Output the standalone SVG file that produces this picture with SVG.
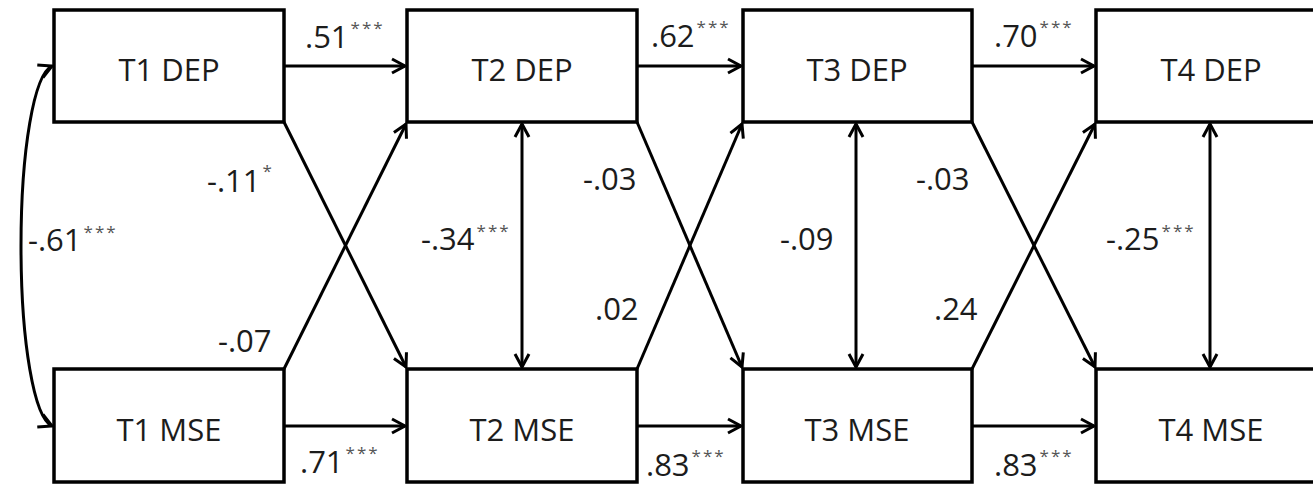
<svg xmlns="http://www.w3.org/2000/svg" width="1313" height="484" viewBox="0 0 1313 484">
  <style>
    .box { fill: #ffffff; stroke: #000000; stroke-width: 3.5; }
    .name { font-family: "Open Sans", "Liberation Sans", sans-serif; font-size: 31px; fill: #1c1c1c; text-anchor: middle; }
    .coef { font-family: "Open Sans", "Liberation Sans", sans-serif; font-size: 31px; fill: #1c1c1c; }
    .sig { font-size: 17px; letter-spacing: 2px; fill: #555555; }
    .edge { fill: none; stroke: #000000; stroke-width: 3; }
  </style>
  <defs>
    <marker id="head" viewBox="-16 -10 20 20" refX="0" refY="0" markerWidth="20" markerHeight="20" markerUnits="userSpaceOnUse" orient="auto-start-reverse">
      <path d="M-13,-7 L0,0 L-13,7" fill="none" stroke="#000000" stroke-width="3" stroke-linejoin="miter"/>
    </marker>
  </defs>

  <rect width="1313" height="484" fill="#ffffff"/>

  <!-- paths between waves -->
  <g id="connectors">
    <!-- autoregressive paths -->
    <line class="edge" x1="284" y1="66" x2="405" y2="66" marker-end="url(#head)"/>
    <line class="edge" x1="637" y1="66" x2="741" y2="66" marker-end="url(#head)"/>
    <line class="edge" x1="972" y1="66" x2="1094" y2="66" marker-end="url(#head)"/>
    <line class="edge" x1="284" y1="426" x2="405" y2="426" marker-end="url(#head)"/>
    <line class="edge" x1="637" y1="426" x2="741" y2="426" marker-end="url(#head)"/>
    <line class="edge" x1="972" y1="426" x2="1094" y2="426" marker-end="url(#head)"/>
    <!-- cross-lagged paths -->
    <line class="edge" x1="284" y1="122" x2="406" y2="367" marker-end="url(#head)"/>
    <line class="edge" x1="284" y1="369" x2="406" y2="124" marker-end="url(#head)"/>
    <line class="edge" x1="637" y1="122" x2="742" y2="367" marker-end="url(#head)"/>
    <line class="edge" x1="637" y1="369" x2="742" y2="124" marker-end="url(#head)"/>
    <line class="edge" x1="972" y1="122" x2="1095" y2="367" marker-end="url(#head)"/>
    <line class="edge" x1="972" y1="369" x2="1095" y2="124" marker-end="url(#head)"/>
    <!-- within-wave residual covariances -->
    <line class="edge" x1="522" y1="124" x2="522" y2="367" marker-start="url(#head)" marker-end="url(#head)"/>
    <line class="edge" x1="856" y1="124" x2="856" y2="367" marker-start="url(#head)" marker-end="url(#head)"/>
    <line class="edge" x1="1210" y1="124" x2="1210" y2="367" marker-start="url(#head)" marker-end="url(#head)"/>
    <!-- T1 correlation -->
    <path class="edge" d="M52,66 C34,74 21,150 21,246 C21,342 34,418 52,426" marker-start="url(#head)" marker-end="url(#head)"/>
  </g>

  <g id="t1-dep">
    <rect class="box" x="54" y="10" width="230" height="112"/>
    <text class="name" x="169" y="81">T1 DEP</text>
  </g>
  <g id="t2-dep">
    <rect class="box" x="407" y="10" width="230" height="112"/>
    <text class="name" x="522" y="81">T2 DEP</text>
  </g>
  <g id="t3-dep">
    <rect class="box" x="743" y="10" width="229" height="112"/>
    <text class="name" x="857" y="81">T3 DEP</text>
  </g>
  <g id="t4-dep">
    <rect class="box" x="1096" y="10" width="230" height="112"/>
    <text class="name" x="1211" y="81">T4 DEP</text>
  </g>
  <g id="t1-mse">
    <rect class="box" x="54" y="369" width="230" height="113"/>
    <text class="name" x="169" y="441">T1 MSE</text>
  </g>
  <g id="t2-mse">
    <rect class="box" x="407" y="369" width="230" height="113"/>
    <text class="name" x="522" y="441">T2 MSE</text>
  </g>
  <g id="t3-mse">
    <rect class="box" x="743" y="369" width="229" height="113"/>
    <text class="name" x="857" y="441">T3 MSE</text>
  </g>
  <g id="t4-mse">
    <rect class="box" x="1096" y="369" width="230" height="113"/>
    <text class="name" x="1211" y="441">T4 MSE</text>
  </g>

  <!-- standardized coefficients -->
  <g id="coefficients">
    <text class="coef" x="305" y="48">.51<tspan class="sig" dx="2" dy="-14">***</tspan></text>
    <text class="coef" x="651" y="47">.62<tspan class="sig" dx="2" dy="-14">***</tspan></text>
    <text class="coef" x="994" y="47">.70<tspan class="sig" dx="2" dy="-14">***</tspan></text>
    <text class="coef" x="300" y="473">.71<tspan class="sig" dx="2" dy="-14">***</tspan></text>
    <text class="coef" x="646" y="476">.83<tspan class="sig" dx="2" dy="-14">***</tspan></text>
    <text class="coef" x="994" y="476">.83<tspan class="sig" dx="2" dy="-14">***</tspan></text>
    <text class="coef" x="28" y="251">-.61<tspan class="sig" dx="2" dy="-13">***</tspan></text>
    <text class="coef" x="207" y="192">-.11<tspan class="sig" dx="2" dy="-15">*</tspan></text>
    <text class="coef" x="218" y="352">-.07</text>
    <text class="coef" x="421" y="250">-.34<tspan class="sig" dx="2" dy="-13">***</tspan></text>
    <text class="coef" x="583" y="190">-.03</text>
    <text class="coef" x="595" y="320">.02</text>
    <text class="coef" x="780" y="250">-.09</text>
    <text class="coef" x="916" y="190">-.03</text>
    <text class="coef" x="934" y="320">.24</text>
    <text class="coef" x="1106" y="250">-.25<tspan class="sig" dx="2" dy="-13">***</tspan></text>
  </g>
</svg>
